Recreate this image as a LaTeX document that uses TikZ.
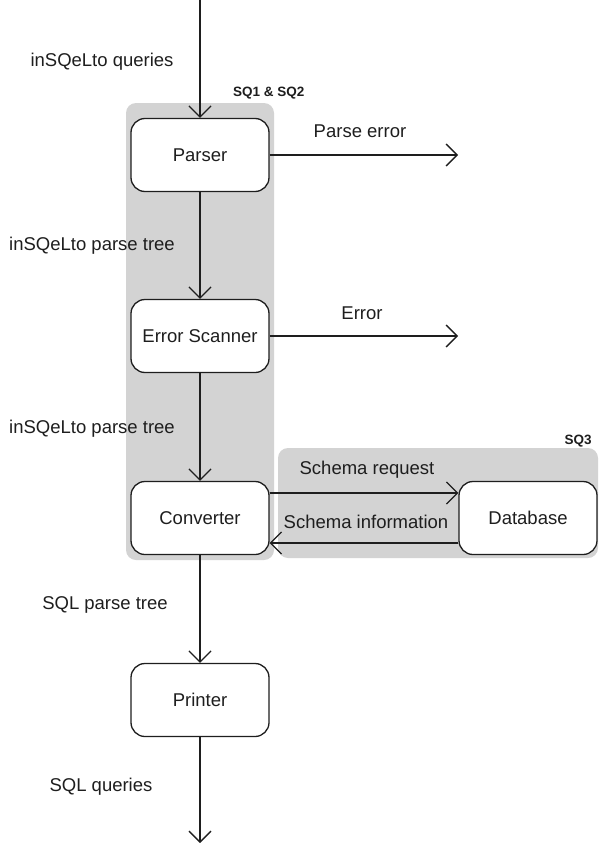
\documentclass[tikz,border=0pt]{standalone}
\usepackage{fontspec}
\setmainfont{Liberation Sans}
\usetikzlibrary{arrows.meta}
\definecolor{grp}{RGB}{211,211,211}
\definecolor{ink}{RGB}{30,30,30}
\begin{document}
\begin{tikzpicture}[x=1pt,y=-1pt,
  proc/.style={draw=ink,line width=1.3pt,fill=white,rounded corners=14pt,
    minimum width=138pt,minimum height=73pt,inner sep=0pt,
    font=\fontsize{18.5}{21}\selectfont,text=ink},
  lbl/.style={font=\fontsize{18.5}{21}\selectfont,text=ink,inner sep=0pt},
  grplbl/.style={font=\fontsize{13.5}{15}\selectfont\bfseries,text=ink,inner sep=0pt},
  flow/.style={draw=ink,line width=1.3pt,-{Straight Barb[length=11pt,width=22pt,line width=1.3pt]}},
  grpbox/.style={fill=grp,rounded corners=10pt}]
\useasboundingbox (0,0) rectangle (598,843);
% groups
\fill[grpbox] (126,103) rectangle (274,560);
\fill[grpbox] (278,448) rectangle (598,558);
\node[grplbl,anchor=west] (g1) at (233,93) {SQ1 \& SQ2};
\node[grplbl] (g2) at (578,441) {SQ3};
% nodes
\node[proc] (parser) at (200,155) {Parser};
\node[proc] (scanner) at (200,336) {Error Scanner};
\node[proc] (converter) at (200,518) {Converter};
\node[proc] (printer) at (200,700) {Printer};
\node[proc] (db) at (528,518) {Database};
\coordinate (top) at (200,0);
\coordinate (bot) at (200,843);
\coordinate (perr) at (458,155);
\coordinate (err) at (458,336);
% connectors
\draw[flow] (top) -- (parser);
\draw[flow] (parser) -- (scanner);
\draw[flow] (scanner) -- (converter);
\draw[flow] (converter) -- (printer);
\draw[flow] (printer) -- (bot);
\draw[flow] (parser.east) -- (perr);
\draw[flow] (scanner.east) -- (err);
\draw[flow] ([yshift=25pt]converter.east) -- ([yshift=25pt]db.west);
\draw[flow] ([yshift=-25pt]db.west) -- ([yshift=-25pt]converter.east);
% labels
\node[lbl] (l1) at (102,62) {inSQeLto queries};
\node[lbl] (l2) at (360,131) {Parse error};
\node[lbl] (l3) at (92,246) {inSQeLto parse tree};
\node[lbl] (l4) at (362,313) {Error};
\node[lbl] (l5) at (92,429) {inSQeLto parse tree};
\node[lbl] (l6) at (367,470) {Schema request};
\node[lbl] (l7) at (366,522) {Schema information};
\node[lbl] (l8) at (105,605) {SQL parse tree};
\node[lbl] (l9) at (101,787) {SQL queries};
\end{tikzpicture}
\end{document}
